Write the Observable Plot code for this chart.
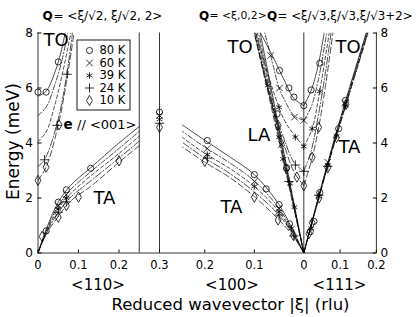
<!DOCTYPE html>
<html><head><meta charset="utf-8">
<script src="https://cdn.jsdelivr.net/npm/d3@7"></script>
<script src="https://cdn.jsdelivr.net/npm/@observablehq/plot@0.6"></script>
<style>body{margin:0;background:#fff;} #chart{width:418px;height:317px;}</style>
</head><body><div id="chart"></div>
<script>
// ---------- data ----------
const temps = ["80 K", "60 K", "39 K", "24 K", "10 K"];
const symbols = ["circle", "times", "asterisk", "plus", "diamond"];

// measured points [temperature, ξ (rlu), energy (meV)]
const taPts110 = [
  ["80 K",0.02,0.8],["80 K",0.05,1.85],["80 K",0.07,2.3],["80 K",0.13,3.08],
  ["60 K",0.05,1.72],["60 K",0.07,2.12],
  ["39 K",0.05,1.6],["39 K",0.07,2.0],
  ["24 K",0.05,1.48],["24 K",0.07,1.86],
  ["10 K",0.01,0.6],["10 K",0.05,1.3],["10 K",0.07,1.72],["10 K",0.1,2.03],["10 K",0.2,3.35]
];
const toPts110 = [
  ["80 K",0,5.85],["80 K",0.02,5.85],["80 K",0.05,6.95],
  ["24 K",0.016,3.39],["24 K",0.047,4.64],["24 K",0.072,6.5],
  ["10 K",0,2.64],["10 K",0.02,3.12],["10 K",0.052,4.66]
];
const zbPts = [["80 K",5.12],["60 K",5.0],["39 K",4.86],["24 K",4.72],["10 K",4.57]];
const taPts100 = [
  ["80 K",0.195,4.09],["80 K",0.1,2.85],["80 K",0.076,2.33],["80 K",0.05,1.76],["80 K",0.029,1.06],
  ["60 K",0.195,3.8],["60 K",0.1,2.6],["60 K",0.05,1.62],
  ["39 K",0.195,3.58],["39 K",0.1,2.42],["39 K",0.05,1.5],["39 K",0.025,0.9],
  ["24 K",0.195,3.45],["24 K",0.05,1.38],["24 K",0.02,0.62],
  ["10 K",0.2,3.33],["10 K",0.1,2.03],["10 K",0.052,1.2],["10 K",0.021,0.64]
];
const laPts100 = [
  ["80 K",0.035,3.1],["80 K",0.054,5.06],
  ["60 K",0.045,3.95],
  ["39 K",0.019,1.67],["39 K",0.028,2.52],["39 K",0.042,3.42],["39 K",0.05,4.21],["39 K",0.073,6.09],
  ["24 K",0.03,2.6],
  ["10 K",0.035,3.06],["10 K",0.052,4.64]
];
const toPts100 = [
  ["80 K",0,5.36],["80 K",0.02,5.67],["80 K",0.03,6.0],["80 K",0.049,6.64],
  ["60 K",0,4.82],["60 K",0.019,4.94],["60 K",0.049,6.0],["60 K",0.067,7.18],
  ["39 K",0,3.87],["39 K",0.017,4.21],["39 K",0.05,5.3],
  ["24 K",0,2.97],["24 K",0.017,3.2],
  ["10 K",0,2.45],["10 K",0.014,2.76]
];
const toPts111 = [
  ["80 K",0.02,5.93],["80 K",0.044,6.9],
  ["39 K",0.023,4.52],["39 K",0.044,5.88],
  ["10 K",0.023,3.48],["10 K",0.041,4.57]
];
const taPts111 = [
  ["80 K",0.018,0.78],["80 K",0.028,1.15],["80 K",0.044,2.2],["80 K",0.096,4.52],["80 K",0.115,5.55],
  ["60 K",0.066,3.3],["60 K",0.113,5.45],
  ["39 K",0.02,0.9],["39 K",0.041,2.05],["39 K",0.066,3.2],["39 K",0.09,4.25],["39 K",0.115,5.35],
  ["24 K",0.041,2.1],["24 K",0.066,3.15],
  ["10 K",0.014,0.7],["10 K",0.023,1.1],["10 K",0.042,2.0],["10 K",0.066,3.1],["10 K",0.09,4.2],["10 K",0.116,5.4]
];

// fitted dispersion curves: [temperature, [[ξ, E], ...]]
const taLine110 = [
  ["80 K",[[0,0],[0.02,0.85],[0.05,1.85],[0.08,2.45],[0.13,3.1],[0.2,4.0],[0.25,4.6]]],
  ["60 K",[[0,0],[0.02,0.8],[0.05,1.72],[0.08,2.3],[0.13,2.95],[0.2,3.8],[0.25,4.42]]],
  ["39 K",[[0,0],[0.02,0.75],[0.05,1.6],[0.08,2.15],[0.13,2.8],[0.2,3.62],[0.25,4.25]]],
  ["24 K",[[0,0],[0.02,0.72],[0.05,1.48],[0.08,2.02],[0.13,2.62],[0.2,3.45],[0.25,4.07]]],
  ["10 K",[[0,0],[0.02,0.68],[0.05,1.33],[0.08,1.88],[0.13,2.42],[0.2,3.3],[0.25,3.9]]]
];
const toLine110 = [
  ["80 K",[[0,5.7],[0.02,5.88],[0.04,6.5],[0.055,7.2],[0.067,8.0]]],
  ["60 K",[[0,5.0],[0.02,5.3],[0.04,6.05],[0.06,7.05],[0.073,8.0]]],
  ["39 K",[[0,4.05],[0.02,4.4],[0.04,5.3],[0.06,6.5],[0.081,8.0]]],
  ["24 K",[[0,3.15],[0.016,3.39],[0.047,4.7],[0.07,6.4],[0.085,8.0]]],
  ["10 K",[[0,2.64],[0.02,3.12],[0.05,4.66],[0.07,6.2],[0.089,8.0]]]
];
const taLine100 = [
  ["80 K",[[0,0],[0.02,0.75],[0.05,1.76],[0.1,2.85],[0.15,3.5],[0.2,4.1],[0.245,4.65]]],
  ["60 K",[[0,0],[0.02,0.7],[0.05,1.62],[0.1,2.62],[0.15,3.28],[0.2,3.85],[0.245,4.42]]],
  ["39 K",[[0,0],[0.02,0.66],[0.05,1.5],[0.1,2.42],[0.15,3.08],[0.2,3.62],[0.245,4.2]]],
  ["24 K",[[0,0],[0.02,0.62],[0.05,1.38],[0.1,2.22],[0.15,2.9],[0.2,3.45],[0.245,4.02]]],
  ["10 K",[[0,0],[0.02,0.58],[0.05,1.2],[0.1,2.05],[0.15,2.75],[0.2,3.3],[0.245,3.85]]]
];
const laLine100 = [
  ["80 K",[[0,0],[0.03,2.72],[0.06,5.45],[0.088,8]]],
  ["60 K",[[0,0],[0.03,2.64],[0.06,5.3],[0.091,8]]],
  ["39 K",[[0,0],[0.03,2.56],[0.06,5.15],[0.094,8]]],
  ["24 K",[[0,0],[0.03,2.5],[0.06,5.0],[0.097,8]]],
  ["10 K",[[0,0],[0.03,2.42],[0.06,4.85],[0.1,8]]]
];
const toLine100 = [
  ["80 K",[[0,5.36],[0.02,5.62],[0.04,6.3],[0.06,7.05],[0.08,7.75],[0.087,8]]],
  ["60 K",[[0,4.82],[0.02,5.0],[0.04,5.6],[0.05,6.0],[0.067,7.18],[0.079,8]]],
  ["39 K",[[0,3.87],[0.02,4.3],[0.04,4.85],[0.06,5.8],[0.08,6.95],[0.097,8]]],
  ["24 K",[[0,2.97],[0.02,3.3],[0.04,4.15],[0.06,5.2],[0.08,6.5],[0.099,8]]],
  ["10 K",[[0,2.45],[0.02,2.95],[0.04,3.95],[0.06,5.1],[0.08,6.5],[0.1,8]]]
];
const toLine111 = [
  ["80 K",[[0,5.36],[0.02,5.9],[0.04,6.85],[0.056,8]]],
  ["60 K",[[0,4.82],[0.02,5.3],[0.04,6.3],[0.063,8]]],
  ["39 K",[[0,3.87],[0.023,4.52],[0.044,5.9],[0.07,8]]],
  ["24 K",[[0,2.97],[0.02,3.7],[0.04,5.0],[0.06,6.6],[0.075,8]]],
  ["10 K",[[0,2.45],[0.023,3.45],[0.041,4.57],[0.06,6.1],[0.08,8]]]
];
const taLine111 = [
  ["80 K",[[0,0],[0.04,2.02],[0.08,3.95],[0.12,5.75],[0.172,8]]],
  ["60 K",[[0,0],[0.04,2.0],[0.08,3.9],[0.12,5.7],[0.173,8]]],
  ["39 K",[[0,0],[0.04,1.97],[0.08,3.85],[0.12,5.62],[0.175,8]]],
  ["24 K",[[0,0],[0.04,1.95],[0.08,3.82],[0.12,5.58],[0.176,8]]],
  ["10 K",[[0,0],[0.04,1.93],[0.08,3.8],[0.12,5.55],[0.177,8]]]
];

// tick labels of the composite wavevector axis: [direction, ξ, label]
const xTicks = [
  ["110",0,"0"],["110",0.1,"0.1"],["110",0.2,"0.2"],["110",0.3,"0.3"],
  ["100",0.2,"0.2"],["100",0.1,"0.1"],["100",0,"0"],
  ["111",0.1,"0.1"],["111",0.2,"0.2"]
];
const yTicks = [0, 2, 4, 6, 8];

// ---------- layout ----------
const W = 418, H = 317, ML = 37.5, MR = 42.1, MT = 32.5, MB = 64.5;
const U0 = 0.6563, K100 = 1.222, K111 = 0.896;   // composite axis: <110> | zone boundary | <100> reversed | <111>
const UR = U0 + K111 * 0.2;
function xpos(dir, xi) {
  if (dir === "110") return xi;
  if (dir === "zb") return 0.3;
  if (dir === "100") return U0 - K100 * xi;
  return U0 + K111 * xi;
}
const pxU = px => (px - ML) / ((W - ML - MR) / UR);
const pxE = py => 8 * (H - MB - py) / (H - MB - MT);

const dashes = {"80 K": null, "60 K": "5,2,1.2,2", "39 K": "3.5,2.5", "24 K": "7,2,1.2,2", "10 K": "6,3"};
const FONT = "DejaVu Sans, Liberation Sans, sans-serif";

const pointRows = [];
const addPts = (arr, dir) => arr.forEach(([T, xi, E]) => pointRows.push({T, x: xpos(dir, xi), E}));
addPts(taPts110, "110"); addPts(toPts110, "110");
zbPts.forEach(([T, E]) => pointRows.push({T, x: xpos("zb", 0), E}));
addPts(taPts100, "100"); addPts(laPts100, "100"); addPts(toPts100, "100");
addPts(toPts111, "111"); addPts(taPts111, "111");

const lineRows = [];
const addLines = (arr, dir, name) => arr.forEach(([T, pts]) => pts.forEach(([xi, E]) => lineRows.push({T, key: name + T, x: xpos(dir, xi), E})));
addLines(taLine110, "110", "ta110"); addLines(toLine110, "110", "to110");
addLines(taLine100, "100", "ta100"); addLines(laLine100, "100", "la100"); addLines(toLine100, "100", "to100");
addLines(toLine111, "111", "to111"); addLines(taLine111, "111", "ta111");

const tickU = xTicks.map(([d, xi]) => xpos(d, xi));
const tickLab = new Map(xTicks.map(([d, xi, l]) => [xpos(d, xi), l]));

const txt = (s, X, Y, o = {}) => Plot.text([s], {text: d => d, frameAnchor: "top-left", dx: X - ML, dy: Y - MT,
  lineAnchor: "middle", textAnchor: "start", fontSize: 12, fill: "black", ...o});

const legY = [50, 62.5, 75, 87.5, 100];

const plot = Plot.plot({
  width: W, height: H,
  marginLeft: ML, marginRight: MR, marginTop: MT, marginBottom: MB,
  style: {fontFamily: FONT, background: "white", color: "black"},
  x: {domain: [0, UR]},
  y: {domain: [0, 8]},
  symbol: {domain: temps, range: symbols},
  marks: [
    // frame pieces
    Plot.ruleX([0, 0.25, 0.3, U0, UR], {y1: 0, y2: 8, stroke: "#222", strokeWidth: 0.9}),
    Plot.ruleY([0], {x1: 0, x2: UR, stroke: "#222", strokeWidth: 0.9}),
    Plot.axisY({anchor: "left", ticks: yTicks, tickSize: -4, tickPadding: 9, label: null, fontSize: 12, tickFormat: d => String(d)}),
    Plot.axisY({anchor: "right", ticks: yTicks, tickSize: -4, tickPadding: 8, label: null, fontSize: 12, tickFormat: d => String(d)}),
    Plot.axisX({anchor: "bottom", ticks: tickU, tickSize: -3, tickPadding: 11, label: null, fontSize: 11.5, tickFormat: d => tickLab.get(d)}),
    // curves
    ...temps.map(t => Plot.line(lineRows.filter(d => d.T === t), {
      x: "x", y: "E", z: "key", curve: "catmull-rom", stroke: "black", strokeWidth: 0.7,
      strokeDasharray: dashes[t], clip: true
    })),
    // data points
    Plot.dot(pointRows, {x: "x", y: "E", symbol: "T", r: 3.1, stroke: "black", strokeWidth: 0.8, fill: "none"}),
    // legend
    Plot.rect([0], {x1: () => pxU(77), x2: () => pxU(130), y1: () => pxE(110), y2: () => pxE(40), fill: "white", stroke: "black", strokeWidth: 0.9}),
    Plot.dot(temps, {x: () => pxU(89), y: (d, i) => pxE(legY[i]), symbol: d => d, r: 3.1, stroke: "black", strokeWidth: 0.8, fill: "none"}),
    Plot.text(temps, {x: () => pxU(99), y: (d, i) => pxE(legY[i]), text: d => d, textAnchor: "start", fontSize: 11.5, fill: "black"}),
    // titles
    txt("Q", 42, 15.5, {fontWeight: "bold"}),
    txt("= <ξ/√2, ξ/√2, 2>", 53, 15.5),
    txt("Q", 198.5, 15.5, {fontWeight: "bold"}),
    txt("= <ξ,0,2>", 209, 15.5, {fontSize: 10.8}),
    txt("Q", 266.5, 15.5, {fontWeight: "bold"}),
    txt("= <ξ/√3,ξ/√3,ξ/√3+2>", 277, 15.5, {fontSize: 11.8}),
    // branch labels
    txt("TO", 43, 40, {fontSize: 18}),
    txt("TO", 227, 47, {fontSize: 18}),
    txt("TO", 335, 47, {fontSize: 18}),
    txt("LA", 247, 135, {fontSize: 18}),
    txt("TA", 338, 147, {fontSize: 18}),
    txt("TA", 220, 207, {fontSize: 18}),
    txt("TA", 93, 197.5, {fontSize: 18}),
    txt("e", 63, 124.5, {fontSize: 13.5, fontWeight: "bold"}),
    txt("// <001>", 76.5, 124.5, {fontSize: 13}),
    // axis titles
    txt("Energy (meV)", 13, 141, {fontSize: 17, textAnchor: "middle", rotate: -90}),
    txt("<110>", 97.5, 285, {fontSize: 15, textAnchor: "middle"}),
    txt("<100>", 231.5, 285, {fontSize: 15, textAnchor: "middle"}),
    txt("<111>", 339, 285, {fontSize: 15, textAnchor: "middle"}),
    txt("Reduced wavevector |ξ| (rlu)", 230, 304, {fontSize: 16.5, textAnchor: "middle"})
  ]
});
document.getElementById("chart").append(plot);
</script>
</body></html>
